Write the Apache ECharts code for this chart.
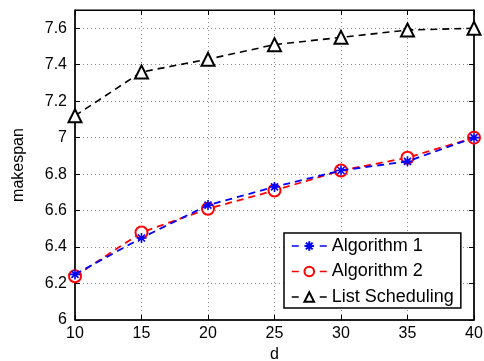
<!DOCTYPE html>
<html>
<head>
<meta charset="utf-8">
<script src="https://cdn.jsdelivr.net/npm/echarts@6/dist/echarts.min.js"></script>
<style>
  html, body { margin: 0; padding: 0; background: #fff; }
  #chart { width: 484px; height: 361px; }
</style>
</head>
<body>
<div id="chart"></div>
<script>
const dValues = [10, 15, 20, 25, 30, 35, 40];
const algo1 = [6.25, 6.45, 6.63, 6.73, 6.82, 6.87, 7.0];
const algo2 = [6.24, 6.48, 6.61, 6.71, 6.82, 6.89, 7.0];
const listSched = [7.12, 7.36, 7.43, 7.51, 7.55, 7.59, 7.6];

const pairs = (ys) => dValues.map((d, i) => [d, ys[i]]);

// asterisk marker like matlab '*'
const star = 'path://M10,0L10,20M0,10L20,10M3,3L17,17M3,17L17,3';

const font = 'Liberation Sans, Arial, sans-serif';
const gridLine = { show: true, lineStyle: { color: '#888', type: [1, 3], width: 1 } };
const legendLine = { type: [7, 21], width: 1.5 };

const chart = echarts.init(document.getElementById('chart'));
chart.setOption({
  animation: false,
  grid: {
    left: 75, right: 10, top: 10, bottom: 41,
    outerBoundsMode: 'none', containLabel: false,
    show: true, borderColor: '#000', borderWidth: 1
  },
  xAxis: [{
    type: 'value', min: 10, max: 40, interval: 5,
    name: 'd', nameLocation: 'middle', nameGap: 26,
    nameTextStyle: { fontFamily: font, fontSize: 16, color: '#000' },
    axisLine: { lineStyle: { color: '#000', width: 1.5 } },
    axisTick: { inside: true, length: 5, lineStyle: { color: '#000' } },
    axisLabel: { fontFamily: font, fontSize: 16, color: '#000', margin: 6 },
    splitLine: gridLine
  }, {
    type: 'value', min: 10, max: 40, interval: 5, position: 'top',
    axisLine: { lineStyle: { color: '#000' } },
    axisTick: { inside: true, length: 5, lineStyle: { color: '#000' } },
    axisLabel: { show: false }, splitLine: { show: false }
  }],
  yAxis: [{
    type: 'value', min: 6, max: 7.7, interval: 0.2,
    name: 'makespan', nameLocation: 'middle', nameGap: 48,
    nameTextStyle: { fontFamily: font, fontSize: 16, color: '#000' },
    axisLine: { lineStyle: { color: '#000', width: 1.5 } },
    axisTick: { inside: true, length: 5, lineStyle: { color: '#000' } },
    axisLabel: { fontFamily: font, fontSize: 16, color: '#000', margin: 8,
      formatter: (v) => (Math.abs(v - 7.7) < 1e-6 ? '' : String(+v.toFixed(1))) },
    splitLine: gridLine
  }, {
    type: 'value', min: 6, max: 7.7, interval: 0.2, position: 'right',
    axisLine: { show: true, lineStyle: { color: '#000', width: 1.5 } },
    axisTick: { show: true, inside: true, length: 5, lineStyle: { color: '#000' } },
    axisLabel: { show: false }, splitLine: { show: false }
  }],
  legend: {
    left: 284, top: 233,
    orient: 'vertical',
    backgroundColor: '#fff',
    borderColor: '#000', borderWidth: 1.5, borderRadius: 0,
    padding: [4, 7, 2, 7],
    itemGap: 7.5, itemWidth: 35, itemHeight: 12,
    textStyle: { fontFamily: font, fontSize: 18, color: '#000' },
    data: [
      { name: 'Algorithm 1', lineStyle: legendLine },
      { name: 'Algorithm 2', lineStyle: legendLine },
      { name: 'List Scheduling', lineStyle: legendLine }
    ]
  },
  series: [{
    name: 'Algorithm 1', type: 'line', data: pairs(algo1),
    symbol: star, symbolSize: 10,
    lineStyle: { color: '#0000ff', type: [7, 5], width: 1.8 },
    itemStyle: { color: '#0000ff', borderColor: '#0000ff', borderWidth: 1.6 },
    z: 3
  }, {
    name: 'Algorithm 2', type: 'line', data: pairs(algo2),
    symbol: 'emptyCircle', symbolSize: 12,
    lineStyle: { color: '#ff0000', type: [7, 5], width: 1.8 },
    itemStyle: { color: '#ff0000', borderColor: '#ff0000', borderWidth: 1.6 },
    z: 2
  }, {
    name: 'List Scheduling', type: 'line', data: pairs(listSched),
    symbol: 'emptyTriangle', symbolSize: 13,
    lineStyle: { color: '#000', type: [7, 5], width: 1.6 },
    itemStyle: { color: '#000', borderColor: '#000', borderWidth: 1.6 },
    z: 2
  }]
});
</script>
</body>
</html>
